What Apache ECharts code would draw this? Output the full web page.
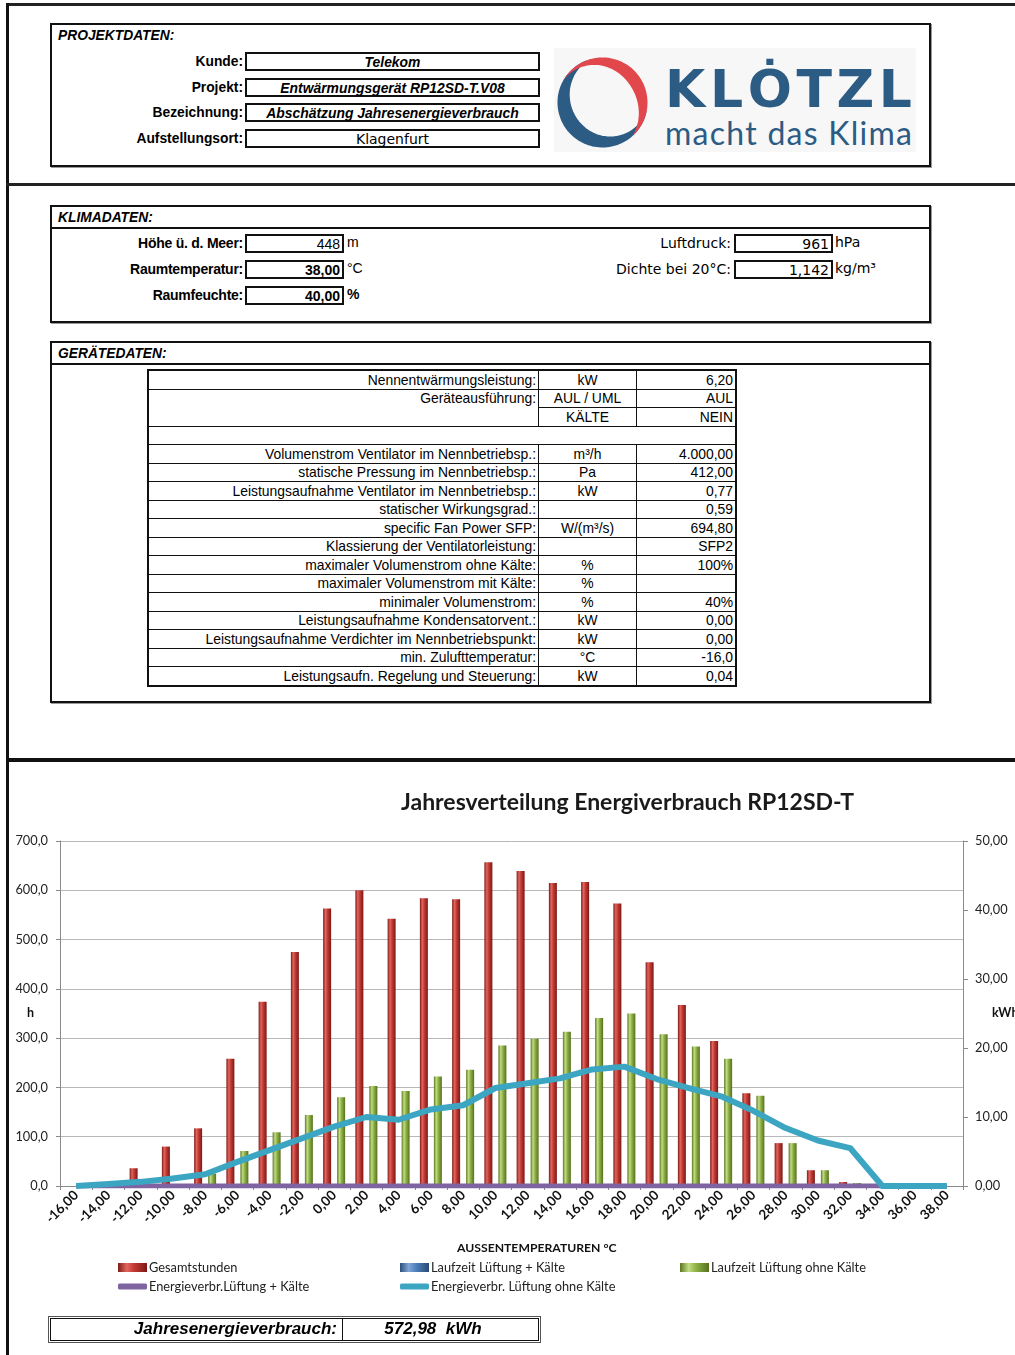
<!DOCTYPE html>
<html>
<head>
<meta charset="utf-8">
<title>Jahresverteilung Energiverbrauch RP12SD-T</title>
<script src="https://cdn.jsdelivr.net/npm/echarts@6/dist/echarts.min.js"></script>
<style>
  html, body { margin: 0; padding: 0; background: #fff; }
  #page { position: relative; width: 1015px; height: 1355px; overflow: hidden;
          font-family: "Liberation Sans", Arial, sans-serif; color: #000; }
  .abs { position: absolute; box-sizing: border-box; white-space: nowrap; }
  #chart { position: absolute; left: 0; top: 760px; width: 1015px; height: 595px; }
</style>
</head>
<body>
<div id="page"><div id="chart"></div></div>
<script>
// ---------- Projektdaten ----------
const projectLabels = ['Kunde:', 'Projekt:', 'Bezeichnung:', 'Aufstellungsort:'];
const projectValues = ['Telekom', 'Entwärmungsgerät RP12SD-T.V08', 'Abschätzung Jahresenergieverbrauch', 'Klagenfurt'];

// ---------- Klimadaten ----------
const climateLeftLabels = ['Höhe ü. d. Meer:', 'Raumtemperatur:', 'Raumfeuchte:'];
const climateLeftValues = ['448', '38,00', '40,00'];
const climateLeftUnits = ['m', '°C', '%'];
const climateRightLabels = ['Luftdruck:', 'Dichte bei 20°C:'];
const climateRightValues = ['961', '1,142'];
const climateRightUnits = ['hPa', 'kg/m³'];

// ---------- Gerätedaten ----------
const deviceLabels = [
  'Nennentwärmungsleistung:', 'Geräteausführung:', '', '',
  'Volumenstrom Ventilator im Nennbetriebsp.:', 'statische Pressung im Nennbetriebsp.:',
  'Leistungsaufnahme Ventilator im Nennbetriebsp.:', 'statischer Wirkungsgrad.:',
  'specific Fan Power SFP:', 'Klassierung der Ventilatorleistung:',
  'maximaler Volumenstrom ohne Kälte:', 'maximaler Volumenstrom mit Kälte:',
  'minimaler Volumenstrom:', 'Leistungsaufnahme Kondensatorvent.:',
  'Leistungsaufnahme Verdichter im Nennbetriebspunkt:', 'min. Zulufttemperatur:',
  'Leistungsaufn. Regelung und Steuerung:'
];
const deviceUnits = ['kW', 'AUL / UML', 'KÄLTE', '', 'm³/h', 'Pa', 'kW', '', 'W/(m³/s)', '', '%', '%', '%', 'kW', 'kW', '°C', 'kW'];
const deviceValues = ['6,20', 'AUL', 'NEIN', '', '4.000,00', '412,00', '0,77', '0,59', '694,80', 'SFP2', '100%', '', '40%', '0,00', '0,00', '-16,0', '0,04'];

// ---------- Jahresverteilung ----------
const temperatures = ['-16,00', '-14,00', '-12,00', '-10,00', '-8,00', '-6,00', '-4,00', '-2,00', '0,00', '2,00',
  '4,00', '6,00', '8,00', '10,00', '12,00', '14,00', '16,00', '18,00', '20,00', '22,00',
  '24,00', '26,00', '28,00', '30,00', '32,00', '34,00', '36,00', '38,00'];
const gesamtstunden = [0, 0, 36, 80, 117, 258, 374, 475, 563, 600, 542, 584, 582, 657,
  639, 615, 617, 573, 454, 367, 294, 188, 87, 32, 8, 0, 0, 0];
const laufzeitMitKaelte = [0, 0, 0, 0, 0, 0, 0, 0, 0, 0, 0, 0, 0, 0,
  0, 0, 0, 0, 0, 0, 0, 0, 0, 0, 0, 0, 0, 0];
const laufzeitOhneKaelte = [0, 0, 0, 0, 25, 71, 109, 144, 180, 203, 193, 222, 236, 285,
  299, 313, 341, 350, 308, 283, 258, 183, 87, 32, 6, 0, 0, 0];
const energieMitKaelte = [0, 0, 0, 0, 0, 0, 0, 0, 0, 0, 0, 0, 0, 0,
  0, 0, 0, 0, 0, 0, 0, 0, 0, 0, 0, 0, 0, 0];
const energieOhneKaelte = [0, 0.3, 0.6, 1.1, 1.7, 3.5, 5.2, 6.9, 8.6, 10.0, 9.6, 11.1, 11.7, 14.2,
  14.9, 15.6, 16.9, 17.3, 15.5, 14.2, 13.0, 10.9, 8.4, 6.6, 5.5, 0, 0, 0];
const hoursAxis = { min: 0, max: 700, step: 100 };
const energyAxis = { min: 0, max: 50, step: 10 };
const jahresenergie = '572,98  kWh';

// ---------- Blatt-Layout (HTML) ----------
const page = document.getElementById('page');
function el(x, y, w, h, css, text) {
  const d = document.createElement('div');
  d.className = 'abs';
  Object.assign(d.style, { left: x + 'px', top: y + 'px', width: w + 'px', height: h + 'px' }, css || {});
  if (text != null) d.textContent = text;
  page.appendChild(d);
  return d;
}
const line = (x, y, w, h, c) => el(x, y, w, h, { background: c || '#111' });

// Rahmen des Blattes
line(6, 3, 1009, 3, '#222');
line(6, 3, 3, 1352, '#111');
line(6, 183, 1009, 3, '#222');
line(6, 758, 1009, 4, '#111');

const frame = { border: '2px solid #111', boxShadow: '1px 1px 0 #999' };
const header = { font: 'italic bold 13.8px "Liberation Sans", Arial, sans-serif', lineHeight: '22px', paddingLeft: '6px' };

// PROJEKTDATEN
el(50, 23, 881, 144, frame);
el(52, 25, 300, 22, header, 'PROJEKTDATEN:');
const projectRows = [52, 78, 103, 129];
projectLabels.forEach((lab, i) => {
  el(40, projectRows[i], 203, 19, { textAlign: 'right', font: 'bold 13.8px "Liberation Sans", Arial, sans-serif', lineHeight: '19px' }, lab);
  const last = i === projectLabels.length - 1;
  el(245, projectRows[i], 295, 19, {
    border: '2px solid #111', textAlign: 'center', lineHeight: '15px',
    font: last ? '14px "DejaVu Sans", Verdana, sans-serif' : 'italic bold 13.9px "Liberation Sans", Arial, sans-serif'
  }, projectValues[i]);
});

// Logo
const logo = document.createElementNS('http://www.w3.org/2000/svg', 'svg');
logo.setAttribute('width', '370'); logo.setAttribute('height', '110');
logo.style.cssText = 'position:absolute;left:550px;top:46px;';
function crescent(cx, cy, R, a1, a2, w, p) {
  const n = 90, outer = [], inner = [];
  for (let i = 0; i <= n; i++) {
    const u = i / n, a = (a1 + (a2 - a1) * u) * Math.PI / 180;
    const f = Math.sin(Math.PI * Math.pow(u, p));
    outer.push([cx + R * Math.cos(a), cy + R * Math.sin(a)]);
    inner.push([cx + (R - w * f) * Math.cos(a), cy + (R - w * f) * Math.sin(a)]);
  }
  const pts = outer.concat(inner.reverse());
  return 'M' + pts.map(q => q[0].toFixed(1) + ',' + q[1].toFixed(1)).join('L') + 'Z';
}
logo.innerHTML =
  '<rect x="4" y="2" width="362" height="104" fill="#f7f7f7"/>' +
  '<path d="' + crescent(52.5, 56.5, 45, 8, 252, 15, 1.15) + '" fill="#2c5b84"/>' +
  '<path d="' + crescent(52.5, 56.5, 45, -152, 48, 12.5, 1.25) + '" fill="#e2474b"/>' +
  '<text x="115" y="61" font-family="DejaVu Sans" font-weight="bold" font-size="52" fill="#2c5b84" textLength="247" lengthAdjust="spacing">KLȮTZL</text>' +
  '<text x="115" y="99" font-family="Lato" font-weight="normal" font-size="32" fill="#2c5b84" textLength="247" lengthAdjust="spacing">macht das Klima</text>';
page.appendChild(logo);

// KLIMADATEN
el(50, 205, 881, 118, frame);
el(52, 207, 877, 22, Object.assign({ borderBottom: '2px solid #111' }, header), 'KLIMADATEN:');
const climateRows = [234, 260, 286];
const narrowBold = 'bold 14px "Liberation Sans", Arial, sans-serif';
climateLeftLabels.forEach((lab, i) => {
  const y = climateRows[i];
  el(60, y, 183, 19, { textAlign: 'right', font: narrowBold, lineHeight: '19px', letterSpacing: '-0.25px' }, lab);
  el(245, y, 99, 19, { border: '2px solid #111', textAlign: 'right', paddingRight: '2px', lineHeight: '15px',
    font: (i === 0 ? '' : 'bold ') + '14px "Liberation Sans", Arial, sans-serif' }, climateLeftValues[i]);
  el(347, y, 40, 19, { lineHeight: '19px', font: (i === 2 ? 'bold ' : '') + '14px "Liberation Sans", Arial, sans-serif' }, climateLeftUnits[i]);
});
climateRightLabels.forEach((lab, i) => {
  const y = climateRows[i];
  el(540, y, 191, 19, { textAlign: 'right', font: '14px "DejaVu Sans", Verdana, sans-serif', lineHeight: '19px' }, lab);
  el(734, y, 99, 19, { border: '2px solid #111', textAlign: 'right', paddingRight: '2px', lineHeight: '15px',
    font: '14px "DejaVu Sans", Verdana, sans-serif' }, climateRightValues[i]);
  el(835, y, 60, 19, { lineHeight: '19px', font: '14px "DejaVu Sans", Verdana, sans-serif' }, climateRightUnits[i]);
});

// GERÄTEDATEN
el(50, 341, 881, 362, frame);
el(52, 343, 877, 22, Object.assign({ borderBottom: '2px solid #111' }, header), 'GERÄTEDATEN:');
const tx = [148, 538, 636, 735], ty0 = 370, rowH = 315 / 17;
const cellFont = '13.9px "Liberation Sans", Arial, sans-serif';
const rowY = i => Math.round(ty0 + i * rowH);
deviceLabels.forEach((lab, i) => {
  const y = rowY(i), h = rowY(i + 1) - y;
  if (i === 3) { // Leerzeile über die ganze Breite
    el(tx[0], y, tx[3] - tx[0] + 1, h + 1, { border: '1px solid #111' });
    return;
  }
  if (i === 1) {
    el(tx[0], y, tx[1] - tx[0] + 1, rowY(3) - y + 1, { border: '1px solid #111', textAlign: 'right', paddingRight: '2px',
      font: cellFont, lineHeight: (h - 1) + 'px' }, lab);
  } else if (i !== 2) {
    el(tx[0], y, tx[1] - tx[0] + 1, h + 1, { border: '1px solid #111', textAlign: 'right', paddingRight: '2px',
      font: cellFont, lineHeight: (h - 1) + 'px' }, lab);
  }
  el(tx[1], y, tx[2] - tx[1] + 1, h + 1, { border: '1px solid #111', textAlign: 'center', font: cellFont, lineHeight: (h - 1) + 'px' }, deviceUnits[i]);
  el(tx[2], y, tx[3] - tx[2] + 1, h + 1, { border: '1px solid #111', textAlign: 'right', paddingRight: '2px', font: cellFont, lineHeight: (h - 1) + 'px' }, deviceValues[i]);
});
el(tx[0] - 1, ty0 - 1, tx[3] - tx[0] + 3, rowY(17) - ty0 + 3, { border: '2px solid #111' });

// Jahresenergieverbrauch
el(48, 1316, 493, 27, { border: '3px double #111', outline: '1px solid #555', outlineOffset: '-1px' });
el(52, 1319, 291, 21, { textAlign: 'right', paddingRight: '5px', lineHeight: '21px', borderRight: '1px solid #111',
  font: 'italic bold 17px "Liberation Sans", Arial, sans-serif' }, 'Jahresenergieverbrauch:');
el(343, 1319, 180, 21, { textAlign: 'center', lineHeight: '21px', font: 'italic bold 17px "Liberation Sans", Arial, sans-serif', whiteSpace: 'pre' }, jahresenergie);

// ---------- Diagramm (ECharts) ----------
const chart = echarts.init(document.getElementById('chart'), null, { renderer: 'canvas' });
const cyl = (dark, mid, light, edge) => new echarts.graphic.LinearGradient(0, 0, 1, 0, [
  { offset: 0, color: dark }, { offset: 0.3, color: light }, { offset: 0.55, color: mid }, { offset: 1, color: edge }
]);
const redFill = cyl('#7e1a16', '#c43a34', '#e0665e', '#7a1915');
const blueFill = cyl('#2c4f7a', '#4f81bd', '#7fa6d6', '#2a4a73');
const greenFill = cyl('#5a7720', '#8fb246', '#c2dc84', '#56711f');
const fmt = (v, d) => v.toFixed(d).replace('.', ',');
const chartFont = 'Lato, "Noto Sans", sans-serif';
const legendBase = {
  padding: 0, itemGap: 0, itemWidth: 29, itemHeight: 9, selectedMode: false,
  textStyle: { fontSize: 12.8, color: '#222', fontFamily: chartFont, padding: [0, 0, 0, -3] }
};
const legendAt = (name, x, y, extra) => Object.assign({}, legendBase, { data: [name], left: x, top: y }, extra || {});

chart.setOption({
  animation: false,
  textStyle: { fontFamily: chartFont },
  title: {
    text: 'Jahresverteilung Energiverbrauch RP12SD-T', left: 396, top: 26,
    textStyle: { fontSize: 23, fontWeight: 'bold', color: '#1a1a1a', fontFamily: chartFont }
  },
  grid: { left: 60, top: 81, width: 903, height: 345 },
  legend: [
    legendAt('Gesamtstunden', 118, 501, { icon: 'rect' }),
    legendAt('Laufzeit Lüftung + Kälte', 400, 501, { icon: 'rect' }),
    legendAt('Laufzeit Lüftung ohne Kälte', 680, 501, { icon: 'rect' }),
    legendAt('Energieverbr.Lüftung + Kälte', 118, 520, { icon: 'roundRect', itemHeight: 6 }),
    legendAt('Energieverbr. Lüftung ohne Kälte', 400, 520, { icon: 'roundRect', itemHeight: 6 })
  ],
  graphic: [
    { type: 'text', left: 27, top: 246, style: { text: 'h', font: 'bold 12.5px ' + chartFont, fill: '#111' } },
    { type: 'text', left: 992, top: 246, style: { text: 'kWh', font: 'bold 12.5px ' + chartFont, fill: '#111' } },
    { type: 'text', left: 457, top: 482, style: { text: 'AUSSENTEMPERATUREN °C', font: 'bold 12.2px ' + chartFont, fill: '#111' } }
  ],
  xAxis: {
    type: 'category', data: temperatures, boundaryGap: true,
    axisLine: { lineStyle: { color: '#8a8a8a' } },
    axisTick: { show: true, length: 4, lineStyle: { color: '#8a8a8a' } },
    axisLabel: { rotate: 45, interval: 0, margin: 7, fontSize: 13.5, fontWeight: 'bold', color: '#111' }
  },
  yAxis: [{
    type: 'value', min: hoursAxis.min, max: hoursAxis.max, interval: hoursAxis.step,
    axisLine: { show: true, lineStyle: { color: '#8a8a8a' } },
    axisTick: { show: true, length: 4, lineStyle: { color: '#8a8a8a' } },
    axisLabel: { formatter: v => fmt(v, 1), margin: 12, fontSize: 12.8, color: '#222' },
    splitLine: { lineStyle: { color: '#b8b8b8' } }
  }, {
    type: 'value', position: 'right', min: energyAxis.min, max: energyAxis.max, interval: energyAxis.step,
    axisLine: { show: true, lineStyle: { color: '#8a8a8a' } },
    axisTick: { show: true, length: 5, lineStyle: { color: '#8a8a8a' } },
    axisLabel: { formatter: v => fmt(v, 2), margin: 12, fontSize: 12.8, color: '#222' },
    splitLine: { show: false }
  }],
  series: [
    { name: 'Gesamtstunden', type: 'bar', data: gesamtstunden, barWidth: 8, barGap: '-12.5%',
      itemStyle: { color: redFill } },
    { name: 'Laufzeit Lüftung + Kälte', type: 'bar', data: laufzeitMitKaelte, barWidth: 8, barGap: '-12.5%',
      itemStyle: { color: blueFill } },
    { name: 'Laufzeit Lüftung ohne Kälte', type: 'bar', data: laufzeitOhneKaelte, barWidth: 8, barGap: '-12.5%',
      itemStyle: { color: greenFill } },
    { name: 'Energieverbr.Lüftung + Kälte', type: 'line', yAxisIndex: 1, data: energieMitKaelte,
      symbol: 'none', lineStyle: { width: 5, color: '#8064a2' }, itemStyle: { color: '#8064a2' } },
    { name: 'Energieverbr. Lüftung ohne Kälte', type: 'line', yAxisIndex: 1, data: energieOhneKaelte,
      symbol: 'none', lineStyle: { width: 6, color: '#3ca6c2', join: 'round' }, itemStyle: { color: '#3ca6c2' } }
  ]
});
</script>
</body>
</html>
